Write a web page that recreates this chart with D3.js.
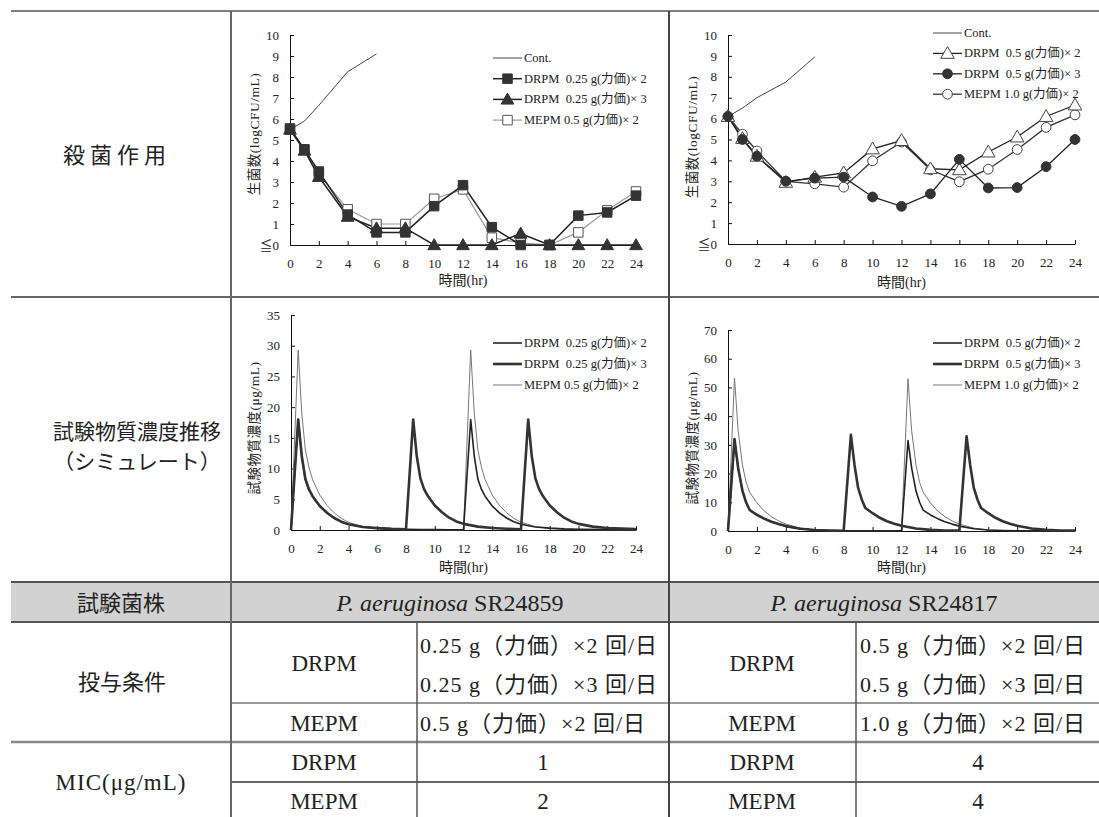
<!DOCTYPE html>
<html><head><meta charset="utf-8">
<script src="https://cdn.jsdelivr.net/npm/d3@7"></script>
<style>
body{margin:0;background:#fff}
svg{display:block}
text{font-family:"Liberation Serif","DejaVu Serif","Noto Sans CJK JP",serif;fill:#222;white-space:pre}
</style></head><body>
<div id="c"></div>
<script>
// ---------- DATA ----------
const xTicks = [0,2,4,6,8,10,12,14,16,18,20,22,24];
const hours = [0,1,2,4,6,8,10,12,14,16,18,20,22,24];
const contHours = [0,1,2,4,6];

// Panel A: SR24859 bactericidal (logCFU/mL)
const A_cont  = [5.5,5.9,6.65,8.25,9.1];
const A_drpm2 = [5.55,4.55,3.5,1.45,0.6,0.6,1.85,2.85,0.85,0,0,1.4,1.55,2.35];
const A_drpm3 = [5.5,4.5,3.25,1.35,0.8,0.8,0,0,0,0.55,0,0,0,0];
const A_mepm  = [5.5,4.55,3.4,1.7,1.0,1.0,2.2,2.65,0.35,0.1,0,0.6,1.65,2.55];
const A_labels = ["Cont.","DRPM  0.25 g(力価)× 2","DRPM  0.25 g(力価)× 3","MEPM 0.5 g(力価)× 2"];

// Panel B: SR24817 bactericidal
const B_cont  = [6.1,6.5,7.0,7.75,8.95];
const B_drpm2 = [6.1,5.05,4.2,2.95,3.2,3.4,4.55,4.95,3.6,3.55,4.4,5.12,6.1,6.65];
const B_drpm3 = [6.1,5.0,4.2,3.0,3.15,3.2,2.25,1.8,2.4,4.05,2.68,2.7,3.7,5.0];
const B_mepm  = [6.1,5.25,4.45,3.0,2.88,2.72,3.98,4.88,3.55,2.98,3.58,4.52,5.58,6.18];
const B_labels = ["Cont.","DRPM  0.5 g(力価)× 2","DRPM  0.5 g(力価)× 3","MEPM 1.0 g(力価)× 2"];

// Panel C: simulated concentration (µg/mL), SR24859 regimens  [time, conc]
const C_drpm2 = [[0,0],[0.5,18],[0.75,12],[1,8.3],[1.25,6.6],[1.5,5.5],[2,3.9],[2.5,2.8],[3,1.95],[3.5,1.35],[4,0.95],[5,0.5],[6,0.3],[7,0.18],[8,0.12],[9,0.08],[10,0.06],[11,0.05],[12,0.04],
  [12.5,18],[12.75,12],[13,8.3],[13.25,6.6],[13.5,5.5],[14,3.9],[14.5,2.8],[15,1.95],[15.5,1.35],[16,0.95],[17,0.5],[18,0.3],[19,0.18],[20,0.12],[22,0.07],[24,0.05]];
const C_drpm3 = [[0,0],[0.5,18],[0.75,12],[1,8.3],[1.25,6.6],[1.5,5.5],[2,3.9],[2.5,2.8],[3,1.95],[3.5,1.35],[4,0.95],[5,0.5],[6,0.3],[7,0.18],[8,0.12],
  [8.5,18],[8.75,12],[9,8.4],[9.25,6.7],[9.5,5.6],[10,4.0],[10.5,2.9],[11,2.0],[11.5,1.4],[12,1.0],[13,0.55],[14,0.32],[15,0.2],[16,0.13],
  [16.5,18],[16.75,12],[17,8.4],[17.25,6.7],[17.5,5.6],[18,4.0],[18.5,2.9],[19,2.0],[19.5,1.4],[20,1.0],[21,0.55],[22,0.33],[23,0.22],[24,0.15]];
const C_mepm = [[0,0],[0.5,29.3],[0.75,19],[1,13],[1.25,10.2],[1.5,8.2],[2,5.7],[2.5,4.0],[3,2.8],[3.5,1.9],[4,1.25],[5,0.55],[6,0.25],[7,0.1],[8,0.05],[10,0.02],[12,0.01],
  [12.5,29.3],[12.75,19],[13,13],[13.25,10.2],[13.5,8.2],[14,5.7],[14.5,4.0],[15,2.8],[15.5,1.9],[16,1.25],[17,0.55],[18,0.25],[19,0.1],[20,0.05],[22,0.02],[24,0.01]];
const C_labels = ["DRPM  0.25 g(力価)× 2","DRPM  0.25 g(力価)× 3","MEPM 0.5 g(力価)× 2"];

// Panel D: simulated concentration, SR24817 regimens
const D_drpm2 = [[0,0],[0.45,32],[0.7,22],[1,14],[1.25,10],[1.5,7.3],[2,5.6],[2.5,4.3],[3,3.2],[3.5,2.4],[4,1.7],[5,0.8],[6,0.35],[7,0.18],[8,0.1],[10,0.05],[12,0.03],
  [12.45,31.5],[12.7,22],[13,14],[13.25,10],[13.5,7.3],[14,5.6],[14.5,4.3],[15,3.2],[15.5,2.4],[16,1.7],[17,0.8],[18,0.35],[19,0.18],[20,0.1],[22,0.05],[24,0.03]];
const D_drpm3 = [[0,0],[0.45,32],[0.7,22],[1,14],[1.25,10],[1.5,7.3],[2,5.6],[2.5,4.3],[3,3.2],[3.5,2.4],[4,1.7],[5,0.8],[6,0.35],[7,0.18],[8,0.1],
  [8.5,33.5],[8.75,23],[9,15],[9.25,11],[9.5,8],[10,6.2],[10.5,4.6],[11,3.4],[11.5,2.5],[12,1.8],[13,0.85],[14,0.4],[15,0.2],[16,0.12],
  [16.5,33],[16.75,23],[17,15],[17.25,11],[17.5,8],[18,6.2],[18.5,4.6],[19,3.4],[19.5,2.5],[20,1.8],[21,0.85],[22,0.4],[23,0.2],[24,0.12]];
const D_mepm = [[0,0],[0.45,53.3],[0.7,35],[1,23],[1.25,17],[1.5,13.5],[2,9.8],[2.5,7.0],[3,5.0],[3.5,3.5],[4,2.4],[5,1.0],[6,0.35],[7,0.12],[8,0.05],[10,0.02],[12,0.01],
  [12.45,53],[12.7,35],[13,23],[13.25,17],[13.5,13.5],[14,9.8],[14.5,7.0],[15,5.0],[15.5,3.5],[16,2.4],[17,1.0],[18,0.35],[19,0.12],[20,0.05],[22,0.02],[24,0.01]];
const D_labels = ["DRPM  0.5 g(力価)× 2","DRPM  0.5 g(力価)× 3","MEPM 1.0 g(力価)× 2"];

// Table texts
const rowLabels = ["殺菌作用","試験物質濃度推移","（シミュレート）"];
const strainHeader = "試験菌株";
const strains = ["SR24859","SR24817"];
const doseLabel = "投与条件";
const drugs = ["DRPM","MEPM"];
const doses1 = ["0.25 g（力価）×2 回/日","0.25 g（力価）×3 回/日","0.5 g（力価）×2 回/日"];
const doses2 = ["0.5 g（力価）×2 回/日","0.5 g（力価）×3 回/日","1.0 g（力価）×2 回/日"];
const micLabel = "MIC(μg/mL)";
const mic1 = ["1","2"];
const mic2 = ["4","4"];

// ---------- DRAW ----------
const W=1099,H=817;
const svg=d3.select("#c").append("svg").attr("width",W).attr("height",H);

// Table background & lines
const tbl=svg.append("g");
tbl.append("rect").attr("x",11).attr("y",582).attr("width",W-11).attr("height",40).attr("fill","#d2d2d2");
const hl=(x1,x2,y,w,c)=>tbl.append("line").attr("x1",x1).attr("x2",x2).attr("y1",y).attr("y2",y).attr("stroke",c).attr("stroke-width",w);
const vl=(x,y1,y2,w,c)=>tbl.append("line").attr("x1",x).attr("x2",x).attr("y1",y1).attr("y2",y2).attr("stroke",c).attr("stroke-width",w);
hl(11,W,11,1.5,"#555");
hl(11,W,297,1.5,"#333");
hl(11,W,582,2,"#555");
hl(11,W,622,2,"#555");
hl(231,W,703,1.5,"#777");
hl(11,W,742,2.5,"#888");
hl(231,W,782,1.5,"#333");
vl(231,11,H,2,"#666");
vl(669,11,H,2,"#444");
vl(417,622,H,1.5,"#555");
vl(856,622,H,1.5,"#555");

const big=(x,y,t,anchor,fs)=>svg.append("text").attr("x",x).attr("y",y).attr("text-anchor",anchor||"middle").attr("dominant-baseline","central").attr("font-size",fs||22).text(t);
big(117,155,rowLabels[0]).attr("letter-spacing",5);
big(137,432,rowLabels[1],"middle",21);
big(137,462,rowLabels[2],"middle",21);
big(121,603,strainHeader);
[450,884].forEach((cx,i)=>{
  const t=svg.append("text").attr("x",cx).attr("y",603).attr("text-anchor","middle").attr("dominant-baseline","central").attr("font-size",24);
  t.append("tspan").attr("font-style","italic").text("P. aeruginosa");
  t.append("tspan").text(" "+strains[i]);
});
big(122,682,doseLabel);
big(324,663,drugs[0],"middle",23); big(324,723,drugs[1],"middle",23);
big(762,663,drugs[0],"middle",23); big(762,723,drugs[1],"middle",23);
[645,684,723].forEach((y,i)=>{
  big(420,y,doses1[i],"start").attr("letter-spacing",1);
  big(860,y,doses2[i],"start").attr("letter-spacing",1);
});
big(121,782,micLabel,"middle",23).attr("letter-spacing",1);
big(324,762,drugs[0],"middle",23); big(324,801,drugs[1],"middle",23);
big(762,762,drugs[0],"middle",23); big(762,801,drugs[1],"middle",23);
big(543,762,mic1[0],"middle",23); big(543,801,mic1[1],"middle",23);
big(978,762,mic2[0],"middle",23); big(978,801,mic2[1],"middle",23);

// ---------- chart helper ----------
function panel(o){
  const g=svg.append("g");
  const x=d3.scaleLinear().domain([0,24]).range([o.x0,o.x1]);
  const y=d3.scaleLinear().domain([0,o.ymax]).range([o.yb,o.yt]);
  const ax=g.append("g").attr("transform",`translate(0,${o.yb})`)
    .call(d3.axisBottom(x).tickValues(xTicks).tickSize(-4).tickSizeOuter(0).tickPadding(14).tickFormat(d3.format("d")));
  const ay=g.append("g").attr("transform",`translate(${o.x0},0)`)
    .call(d3.axisLeft(y).tickValues(o.yTicks).tickSize(-4).tickSizeOuter(0).tickPadding(11).tickFormat(o.yfmt));
  [ax,ay].forEach(a=>{a.selectAll("path").attr("stroke","#111");a.selectAll("line").attr("stroke","#111");
    a.selectAll("text").attr("font-size",13).attr("fill","#222").attr("font-family","'Liberation Serif','Noto Sans CJK JP',serif");});
  g.append("text").attr("x",(o.x0+o.x1)/2).attr("y",o.xtY).attr("text-anchor","middle").attr("dominant-baseline","central").attr("font-size",14).text("時間(hr)");
  g.append("text").attr("transform",`translate(${o.ylX},${o.ylY}) rotate(-90)`).attr("text-anchor","middle").attr("dominant-baseline","central").attr("font-size",13.5).attr("letter-spacing",0.5).text(o.ylab);
  return {g,x,y};
}

function markerPath(type,size){return d3.symbol().type(type).size(size)();}

// ---------- kill-curve panels ----------
function killPanel(P,cont,series,labels,legX,legY,legStep){
  const {g,x,y}=P;
  const line=d3.line().x(d=>x(d[0])).y(d=>y(d[1]));
  g.append("path").datum(contHours.map((h,i)=>[h,cont[i]])).attr("d",line).attr("fill","none").attr("stroke","#444").attr("stroke-width",1);
  series.forEach(s=>{
    g.append("path").datum(hours.map((h,i)=>[h,s.v[i]])).attr("d",line).attr("fill","none").attr("stroke",s.lc).attr("stroke-width",s.lw);
  });
  series.forEach(s=>{
    g.selectAll(null).data(hours.map((h,i)=>[h,s.v[i]])).enter().append("path")
      .attr("d",markerPath(s.sym,s.size)).attr("transform",d=>`translate(${x(d[0])},${y(d[1])+(s.dy||0)})`)
      .attr("fill",s.fill).attr("stroke",s.stroke).attr("stroke-width",1);
  });
  const lg=g.append("g");
  lg.append("line").attr("x1",legX).attr("x2",legX+29).attr("y1",legY).attr("y2",legY).attr("stroke","#444");
  lg.append("text").attr("x",legX+31).attr("y",legY).attr("dominant-baseline","central").attr("font-size",12.5).text(labels[0]);
  series.slice().sort((a,b)=>a.order-b.order).forEach((s,k)=>{
    const yy=legY+legStep*(k+1);
    lg.append("line").attr("x1",legX).attr("x2",legX+29).attr("y1",yy).attr("y2",yy).attr("stroke",s.lc).attr("stroke-width",s.lw);
    lg.append("path").attr("d",markerPath(s.sym,s.size)).attr("transform",`translate(${legX+14.5},${yy+(s.dy||0)})`).attr("fill",s.fill).attr("stroke",s.stroke);
    lg.append("text").attr("x",legX+31).attr("y",yy).attr("dominant-baseline","central").attr("font-size",12.5).text(labels[s.order+1]);
  });
}

const yfmtKill=d=>d===0?"≦0":String(d);
const PA=panel({x0:290,x1:636,yb:245,yt:35,ymax:10,yTicks:d3.range(0,11),yfmt:yfmtKill,xtY:280,ylX:254,ylY:134,ylab:"生菌数(logCFU/mL)"});
killPanel(PA,A_cont,[
  {v:A_mepm,lc:"#999",lw:1.2,sym:d3.symbolSquare,size:90,fill:"#fff",stroke:"#555",order:2},
  {v:A_drpm3,lc:"#222",lw:1.5,sym:d3.symbolTriangle,size:70,fill:"#333",stroke:"#333",order:1,dy:1},
  {v:A_drpm2,lc:"#222",lw:1.5,sym:d3.symbolSquare,size:90,fill:"#333",stroke:"#333",order:0}
],A_labels,493,58,20.7);

const PB=panel({x0:728,x1:1075,yb:244,yt:35,ymax:10,yTicks:d3.range(0,11),yfmt:yfmtKill,xtY:282,ylX:692,ylY:137,ylab:"生菌数(logCFU/mL)"});
killPanel(PB,B_cont,[
  {v:B_mepm,lc:"#333",lw:1.3,sym:d3.symbolCircle,size:75,fill:"#fff",stroke:"#444",order:2},
  {v:B_drpm2,lc:"#222",lw:1.3,sym:d3.symbolTriangle,size:80,fill:"#fff",stroke:"#444",order:0,dy:1},
  {v:B_drpm3,lc:"#222",lw:1.3,sym:d3.symbolCircle,size:75,fill:"#333",stroke:"#333",order:1}
],B_labels,933,33,20.4);

// ---------- concentration panels ----------
function concPanel(P,series,labels,legX,legY,legStep){
  const {g,x,y}=P;
  const line=d3.line().x(d=>x(d[0])).y(d=>y(d[1]));
  series.forEach(s=>{
    g.append("path").datum(s.v).attr("d",line).attr("fill","none").attr("stroke",s.c).attr("stroke-width",s.w).attr("stroke-linejoin","round");
  });
  labels.forEach((l,k)=>{
    const s=series.find(s=>s.order===k);
    const yy=legY+legStep*k;
    g.append("line").attr("x1",legX).attr("x2",legX+29).attr("y1",yy).attr("y2",yy).attr("stroke",s.c).attr("stroke-width",s.w);
    g.append("text").attr("x",legX+31).attr("y",yy).attr("dominant-baseline","central").attr("font-size",12.5).text(l);
  });
}
const PC=panel({x0:291,x1:636,yb:530,yt:315,ymax:35,yTicks:d3.range(0,36,5),yfmt:d3.format("d"),xtY:567,ylX:254,ylY:428,ylab:"試験物質濃度(μg/mL)"});
concPanel(PC,[
  {v:C_mepm,c:"#777",w:1,order:2},
  {v:C_drpm2,c:"#222",w:1.6,order:0},
  {v:C_drpm3,c:"#333",w:2.6,order:1}
],C_labels,493,343,21);

const PD=panel({x0:728,x1:1075,yb:531,yt:330,ymax:70,yTicks:d3.range(0,71,10),yfmt:d3.format("d"),xtY:567,ylX:692,ylY:438,ylab:"試験物質濃度(μg/mL)"});
concPanel(PD,[
  {v:D_mepm,c:"#777",w:1,order:2},
  {v:D_drpm2,c:"#222",w:1.6,order:0},
  {v:D_drpm3,c:"#333",w:2.6,order:1}
],D_labels,933,343,21);
</script></body></html>
